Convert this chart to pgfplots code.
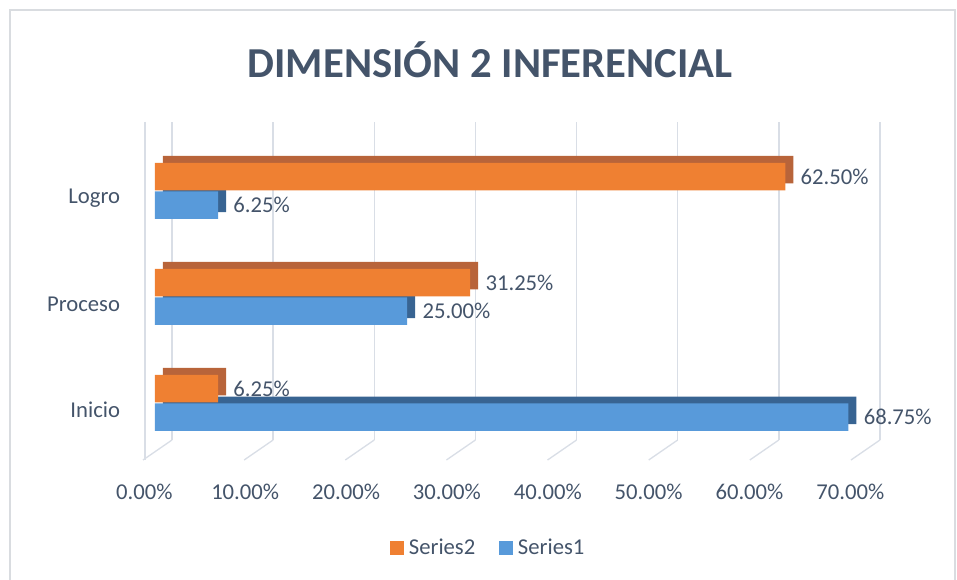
\documentclass[border=0pt]{standalone}
\usepackage{fontspec}
\setmainfont{Carlito}
\usepackage{pgfplots}
\pgfplotsset{compat=1.18}
\definecolor{textc}{RGB}{68,84,106}
\definecolor{gridc}{RGB}{217,222,230}
\definecolor{frame}{RGB}{217,220,224}
\definecolor{org}{RGB}{239,128,50}
\definecolor{orgD}{RGB}{184,100,58}
\definecolor{blu}{RGB}{88,154,218}
\definecolor{bluD}{RGB}{56,100,146}

\begin{document}
\begin{tikzpicture}[font=\fontsize{17}{20}\selectfont]
% page = 957x580 px, 1px = 0.75pt, origin at bar axis bottom-left (px 155,440)
\useasboundingbox (-116.25pt,-105pt) rectangle (601.5pt,330pt);
\draw[frame, line width=1pt] (-108.75pt,322.5pt) rectangle (600pt,-112.5pt);

% back wall grid (3D look)
\begin{axis}[
  at={(12.75pt,0pt)}, anchor=south west,
  scale only axis, width=531pt, height=238.5pt,
  xmin=0, xmax=70, ymin=0, ymax=1,
  xtick={0,10,...,70}, ytick=\empty, xticklabels={},
  xmajorgrids, grid style={gridc, line width=1pt},
  axis line style={draw=none}, tick style={draw=none},
]
\end{axis}
\foreach \k in {0,...,7}
  \draw[gridc, line width=1pt] ({(17+101.14*\k)*0.75pt},0pt) -- ++(-21.75pt,-15pt);
\draw[gridc, line width=1pt] (-7.5pt,238.5pt) -- (-7.5pt,-15pt);

\begin{axis}[
  at={(0pt,0pt)}, anchor=south west,
  scale only axis, width=529.5pt, height=238.5pt,
  xmin=0, xmax=70, ymin=-0.35, ymax=2.65,
  xtick={0,10,...,70},
  xticklabel={\pgfmathprintnumber[fixed,fixed zerofill,precision=2]{\tick}\%},
  xticklabel style={anchor=center, yshift=-39pt, xshift=-8pt, text=textc},
  ytick={0,1,2}, yticklabels={Inicio,Proceso,Logro},
  yticklabel style={anchor=east, inner sep=0pt, xshift=-21.75pt, yshift=-5.5pt, text=textc},
  axis line style={draw=none}, tick style={draw=none},
  /pgf/number format/assume math mode=true,
  xbar, bar width=0.26,
  point meta=x,
  every node near coord/.append style={anchor=west, xshift=8pt, text=textc},
  legend style={at={(0.4745,-0.3396)}, anchor=center, draw=none, fill=none,
    legend columns=2, text=textc, nodes={inner xsep=4pt},
    /tikz/every even column/.append style={column sep=14pt}},
  legend image code/.code={\fill[#1] (0pt,-5pt) rectangle (10pt,5pt);},
  reverse legend,
]
% Series1 (blue)
\addplot[bar shift=-0.07, fill=bluD, draw=none, xshift=6pt, forget plot]
  coordinates {(68.75,0) (25,1) (6.25,2)};
\addplot[bar shift=-0.135, draw=none, fill=blu,
  nodes near coords={\pgfmathprintnumber[fixed,fixed zerofill,precision=2]{\pgfplotspointmeta}\%},
  nodes near coords align=horizontal]
  coordinates {(68.75,0) (25,1) (6.25,2)};
\addlegendentry{Series1}
% Series2 (orange)
\addplot[bar shift=0.2, fill=orgD, draw=none, xshift=6pt, forget plot]
  coordinates {(6.25,0) (31.25,1) (62.5,2)};
\addplot[bar shift=0.135, draw=none, fill=org,
  nodes near coords={\pgfmathprintnumber[fixed,fixed zerofill,precision=2]{\pgfplotspointmeta}\%},
  nodes near coords align=horizontal]
  coordinates {(6.25,0) (31.25,1) (62.5,2)};
\addlegendentry{Series2}
\end{axis}

\node[text=textc, font=\fontsize{32}{36}\selectfont\bfseries] at (251.25pt,285pt) {DIMENSIÓN 2 INFERENCIAL};
\end{tikzpicture}
\end{document}
